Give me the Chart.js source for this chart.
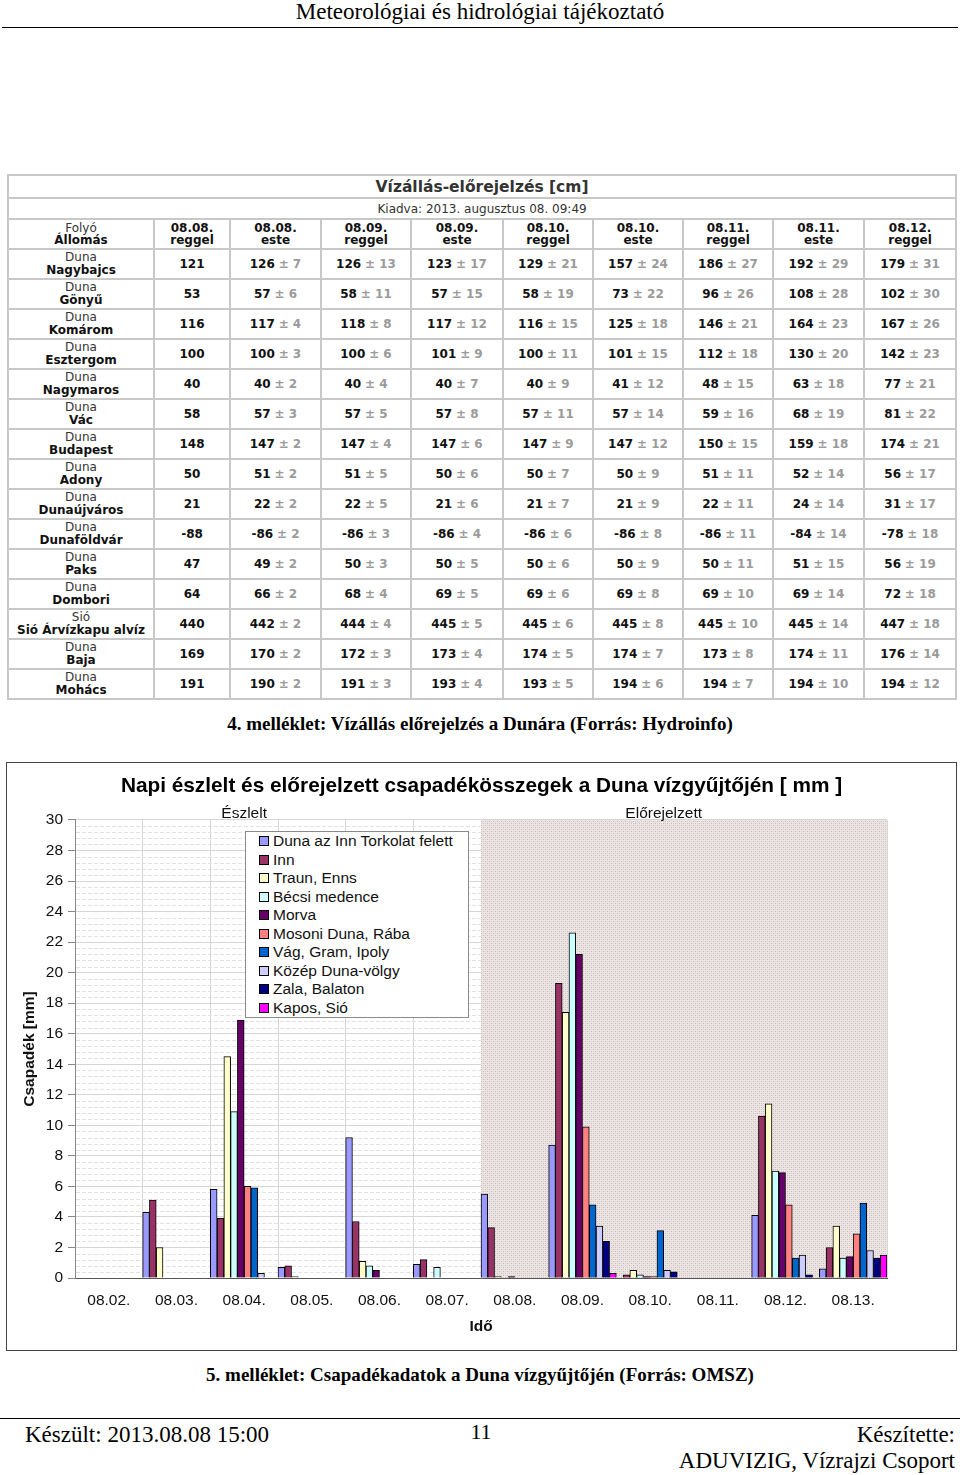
<!DOCTYPE html>
<html><head><meta charset="utf-8">
<script src="https://cdn.jsdelivr.net/npm/chart.js@4.4.0/dist/chart.umd.min.js"></script>
<style>
html,body{margin:0;padding:0;background:#fff;}
body{width:960px;height:1475px;position:relative;overflow:hidden;}
.serif{font-family:"Liberation Serif","Times New Roman",serif;color:#000;}
.abs{position:absolute;}
#hdr{left:0;top:0;width:960px;text-align:center;font-size:23px;line-height:24px;}
#hline{left:2px;top:27px;width:956px;height:0;border-top:1px solid #000;}
#wl{position:absolute;left:7px;top:174px;width:948px;border-collapse:collapse;table-layout:fixed;font-family:"DejaVu Sans",Verdana,sans-serif;font-size:12px;color:#222;background:#fff;}
#wl td{border:2px solid #c8c8c8;text-align:center;padding:0;vertical-align:middle;line-height:13px;overflow:hidden;white-space:nowrap;}
#wl td.hd{line-height:12.5px;}
#wl td.ttl{font-size:15.5px;font-weight:bold;color:#333;line-height:18px;}
#wl td.kia{font-size:12px;color:#333;line-height:14px;}
#wl .rv{font-weight:normal;color:#333;}
#wl b{color:#111;}
#wl .pm{font-weight:bold;color:#9a9a9a;}
#cap4{left:0;top:712px;width:960px;text-align:center;font-size:19px;line-height:24px;font-weight:bold;}
#frame{left:6px;top:762px;width:949px;height:587px;border:1px solid #444;}
#c{position:absolute;left:0;top:0;}
#legend{left:245px;top:831px;width:222px;height:185px;border:1px solid #8a8a8a;background:#fff;font-family:"Liberation Sans",Arial,sans-serif;font-size:15.5px;color:#111;padding-left:0;}
.li{height:18.5px;display:flex;align-items:center;padding-left:13px;white-space:nowrap;}
.mk{width:8px;height:8px;border:1px solid #000;margin-right:4px;flex:none;}
#cap5{left:0;top:1363px;width:960px;text-align:center;font-size:19px;line-height:24px;font-weight:bold;}
#fline{left:0;top:1418px;width:960px;height:0;border-top:1px solid #000;}
#f1{left:25px;top:1422px;font-size:23px;line-height:26px;}
#f2{left:0;top:1419px;width:962px;text-align:center;font-size:22px;line-height:26px;}
#f3{right:5px;top:1422px;text-align:right;font-size:23px;line-height:26px;}
#f4{right:5px;top:1448px;text-align:right;font-size:23px;line-height:26px;}
</style>
</head>
<body>
<div id="hdr" class="abs serif">Meteorológiai és hidrológiai tájékoztató</div>
<div id="hline" class="abs"></div>

<table id="wl"></table>

<div id="cap4" class="abs serif">4. melléklet: Vízállás előrejelzés a Dunára (Forrás: Hydroinfo)</div>

<div id="frame" class="abs"><canvas id="c" width="949" height="587"></canvas></div>
<div id="legend" class="abs"></div>

<div id="cap5" class="abs serif">5. melléklet: Csapadékadatok a Duna vízgyűjtőjén (Forrás: OMSZ)</div>
<div id="fline" class="abs"></div>
<div id="f1" class="abs serif">Készült: 2013.08.08 15:00</div>
<div id="f2" class="abs serif">11</div>
<div id="f3" class="abs serif">Készítette:</div>
<div id="f4" class="abs serif">ADUVIZIG, Vízrajzi Csoport</div>

<script>
// ---------- Water level table data ----------
const tableTitle = 'Vízállás-előrejelzés [cm]';
const tableIssued = 'Kiadva: 2013. augusztus 08. 09:49';
const tableDates = ['08.08.','08.08.','08.09.','08.09.','08.10.','08.10.','08.11.','08.11.','08.12.'];
const tableParts = ['reggel','este','reggel','este','reggel','este','reggel','este','reggel'];
const rivers = ['Duna','Duna','Duna','Duna','Duna','Duna','Duna','Duna','Duna','Duna','Duna','Duna','Sió','Duna','Duna'];
const stations = ['Nagybajcs','Gönyű','Komárom','Esztergom','Nagymaros','Vác','Budapest','Adony','Dunaújváros','Dunaföldvár','Paks','Dombori','Sió Árvízkapu alvíz','Baja','Mohács'];
const levels = [
 [121,126,126,123,129,157,186,192,179],
 [53,57,58,57,58,73,96,108,102],
 [116,117,118,117,116,125,146,164,167],
 [100,100,100,101,100,101,112,130,142],
 [40,40,40,40,40,41,48,63,77],
 [58,57,57,57,57,57,59,68,81],
 [148,147,147,147,147,147,150,159,174],
 [50,51,51,50,50,50,51,52,56],
 [21,22,22,21,21,21,22,24,31],
 [-88,-86,-86,-86,-86,-86,-86,-84,-78],
 [47,49,50,50,50,50,50,51,56],
 [64,66,68,69,69,69,69,69,72],
 [440,442,444,445,445,445,445,445,447],
 [169,170,172,173,174,174,173,174,176],
 [191,190,191,193,193,194,194,194,194]
];
const errors = [
 [7,13,17,21,24,27,29,31],
 [6,11,15,19,22,26,28,30],
 [4,8,12,15,18,21,23,26],
 [3,6,9,11,15,18,20,23],
 [2,4,7,9,12,15,18,21],
 [3,5,8,11,14,16,19,22],
 [2,4,6,9,12,15,18,21],
 [2,5,6,7,9,11,14,17],
 [2,5,6,7,9,11,14,17],
 [2,3,4,6,8,11,14,18],
 [2,3,5,6,9,11,15,19],
 [2,4,5,6,8,10,14,18],
 [2,4,5,6,8,10,14,18],
 [2,3,4,5,7,8,11,14],
 [2,3,4,5,6,7,10,12]
];

// ---------- Precipitation chart data ----------
const chartTitle = 'Napi észlelt és előrejelzett csapadékösszegek a Duna vízgyűjtőjén [ mm ]';
const days = ['08.02.','08.03.','08.04.','08.05.','08.06.','08.07.','08.08.','08.09.','08.10.','08.11.','08.12.','08.13.'];
const firstForecastDay = '08.08.';
const seriesNames = ['Duna az Inn Torkolat felett','Inn','Traun, Enns','Bécsi medence','Morva','Mosoni Duna, Rába','Vág, Gram, Ipoly','Közép Duna-völgy','Zala, Balaton','Kapos, Sió'];
const dunaInnFelett = [0, 4.3, 5.8, 0.7, 9.2, 0.9, 5.5, 8.7, 0,   0, 4.1, 0.6];
const inn           = [0, 5.1, 3.9, 0.8, 3.7, 1.2, 3.3, 19.3, 0.2, 0, 10.6, 2.0];
const traunEnns     = [0, 2.0, 14.5, 0.1, 1.1, 0,  0.1, 17.4, 0.5, 0, 11.4, 3.4];
const becsiMedence  = [0, 0, 10.9, 0, 0.8, 0.7,  0,   22.6, 0.2, 0, 7.0, 1.3];
const morva         = [0, 0, 16.9, 0, 0.5, 0,    0.1, 21.2, 0.1, 0, 6.9, 1.4];
const mosoniRaba    = [0, 0, 6.0, 0, 0, 0,       0,   9.9, 0.1, 0, 4.8, 2.9];
const vagGramIpoly  = [0, 0, 5.9, 0, 0, 0,       0,   4.8, 3.1, 0, 1.3, 4.9];
const kozepDuna     = [0, 0, 0.3, 0, 0, 0,       0,   3.4, 0.5, 0, 1.5, 1.8];
const zalaBalaton   = [0, 0, 0, 0, 0, 0,         0,   2.4, 0.4, 0, 0.2, 1.3];
const kaposSio      = [0, 0, 0, 0, 0, 0,         0,   0.3, 0,   0, 0,   1.5];
const seriesValues = [dunaInnFelett, inn, traunEnns, becsiMedence, morva, mosoniRaba, vagGramIpoly, kozepDuna, zalaBalaton, kaposSio];
const seriesColors = ['#9999ff','#993366','#ffffcc','#ccffff','#660066','#ff8080','#0066cc','#ccccff','#000080','#ff00ff'];

// ---------- Build table ----------
(function(){
  const t = document.getElementById('wl');
  const colW = [146,76,91,90,92,90,90,90,91,92];
  let html = '<colgroup>' + colW.map(w=>'<col style="width:'+w+'px">').join('') + '</colgroup>';
  html += '<tr style="height:23px"><td class="ttl" colspan="10">'+tableTitle+'</td></tr>';
  html += '<tr style="height:21px"><td class="kia" colspan="10">'+tableIssued+'</td></tr>';
  html += '<tr style="height:30px"><td class="hd"><span class="rv">Folyó</span><br><b>Állomás</b></td>';
  for (let i=0;i<tableDates.length;i++) html += '<td class="hd"><b>'+tableDates[i]+'</b><br><b>'+tableParts[i]+'</b></td>';
  html += '</tr>';
  for (let r=0;r<stations.length;r++){
    html += '<tr style="height:30px"><td><span class="rv">'+rivers[r]+'</span><br><b>'+stations[r]+'</b></td>';
    for (let c=0;c<levels[r].length;c++){
      if (c===0) html += '<td><b>'+levels[r][c]+'</b></td>';
      else html += '<td><b>'+levels[r][c]+'</b> <span class="pm">± '+errors[r][c-1]+'</span></td>';
    }
    html += '</tr>';
  }
  t.innerHTML = html;
})();

// ---------- Legend ----------
(function(){
  const lg = document.getElementById('legend');
  lg.innerHTML = seriesNames.map((n,i)=>'<div class="li"><span class="mk" style="background:'+seriesColors[i]+'"></span>'+n+'</div>').join('');
})();

// ---------- Chart ----------
const FONT = '"Liberation Sans", Arial, sans-serif';

function makePattern(ctx){
  const p = document.createElement('canvas');
  p.width = 4; p.height = 4;
  const g = p.getContext('2d');
  g.fillStyle = '#ede4e4'; g.fillRect(0,0,4,4);
  g.fillStyle = '#c9baba';
  g.fillRect(0,0,1,1); g.fillRect(2,2,1,1);
  g.fillStyle = '#dacdcd';
  g.fillRect(2,0,1,1); g.fillRect(0,2,1,1);
  return ctx.createPattern(p,'repeat');
}

const areaPlugin = {
  id: 'areaPlugin',
  beforeDatasetsDraw(chart){
    const {ctx, chartArea:a, scales:{x,y}} = chart;
    ctx.save();
    ctx.beginPath(); ctx.rect(a.left, a.top, a.right-a.left, a.bottom-a.top); ctx.clip();
    ctx.strokeStyle = '#e2e2e2'; ctx.lineWidth = 1; ctx.setLineDash([4,2]);
    for (let i=1;i<75;i++){
      if (i%5===0) continue;
      const py = Math.round(y.getPixelForValue(i*0.4))+0.5;
      ctx.beginPath(); ctx.moveTo(a.left+1, py); ctx.lineTo(a.right, py); ctx.stroke();
    }
    ctx.setLineDash([]);
    const idx = days.indexOf(firstForecastDay);
    const x0 = (x.getPixelForValue(idx-1) + x.getPixelForValue(idx))/2;
    ctx.fillStyle = makePattern(ctx);
    ctx.fillRect(x0, a.top, a.right-x0, a.bottom-a.top);
    ctx.restore();
  },
  afterDraw(chart){
    const {ctx, chartArea:a, scales:{x}} = chart;
    const idx = days.indexOf(firstForecastDay);
    const cw = x.getPixelForValue(1) - x.getPixelForValue(0);
    ctx.save();
    ctx.font = '15.5px ' + FONT;
    ctx.fillStyle = '#111';
    ctx.textAlign = 'center';
    ctx.textBaseline = 'middle';
    ctx.fillText('Észlelt', x.getPixelForValue(2), a.top - 6);
    ctx.fillText('Előrejelzett', x.getPixelForValue(idx+2) + 0.2*cw, a.top - 6);
    ctx.restore();
  }
};

new Chart(document.getElementById('c'), {
  type: 'bar',
  data: {
    labels: days,
    datasets: seriesNames.map((n,i)=>({
      label: n,
      data: seriesValues[i],
      backgroundColor: seriesColors[i],
      borderColor: '#000',
      borderWidth: 1,
      borderSkipped: 'start',
      categoryPercentage: 1,
      barPercentage: 1,
      yAxisID: 'y'
    }))
  },
  options: {
    responsive: false,
    animation: false,
    layout: { padding: { left: 0, right: 0, top: 0, bottom: 0 } },
    plugins: {
      legend: { display: false },
      tooltip: { enabled: false },
      title: {
        display: true, text: chartTitle, color: '#000',
        font: { family: FONT, size: 20.8, weight: 'bold' },
        padding: { top: 11, bottom: 21 }
      }
    },
    scales: {
      x: {
        grid: { color: '#d6d6d6', drawTicks: false, offset: true },
        border: { color: '#555', width: 1 },
        ticks: { font: { family: FONT, size: 15.5 }, color: '#111', padding: 13, maxRotation: 0, autoSkip: false },
        title: { display: true, text: 'Idő', color: '#111', font: { family: FONT, size: 15.5, weight: 'bold' }, padding: { top: 0, bottom: 13.7 } },
        afterFit(s){ s.height = 72; }
      },
      y: {
        min: 0, max: 30,
        ticks: { stepSize: 2, font: { family: FONT, size: 15.5 }, color: '#111', padding: 5 },
        grid: { color: '#d6d6d6', tickColor: '#888', tickLength: 7 },
        border: { color: '#888', width: 1 },
        title: { display: true, text: 'Csapadék [mm]', color: '#111', font: { family: FONT, size: 15.5, weight: 'bold' }, padding: { top: 13.6, bottom: 0 } },
        afterFit(s){ s.width = 68; }
      },
      yRight: {
        position: 'right', min: 0, max: 30,
        grid: { display: false, drawTicks: false },
        border: { display: false },
        ticks: { display: false },
        afterFit(s){ s.width = 69; }
      }
    }
  },
  plugins: [areaPlugin]
});
</script>
</body></html>
